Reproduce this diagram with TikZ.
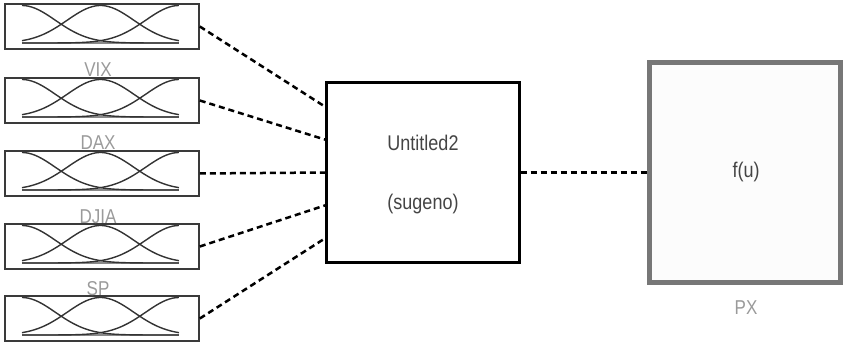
\documentclass[tikz,border=0pt]{standalone}
\usepackage{fontspec}
\usepackage{graphicx}
\setmainfont{Liberation Sans}
\usetikzlibrary{calc}
\definecolor{lblgray}{HTML}{9A9A9A}
\definecolor{txtgray}{HTML}{444444}
\definecolor{boxgray}{HTML}{3A3A3A}
\definecolor{pxgray}{HTML}{777777}
\definecolor{basegray}{HTML}{8A8A8A}
\newcommand{\tallt}[1]{\scalebox{1}[1.18]{#1}}
\tikzset{
  mfbox/.style={draw=boxgray, line width=1.6pt, minimum width=194pt, minimum height=45pt, inner sep=0pt},
  mflabel/.style={text=lblgray, font=\fontsize{17}{17}\selectfont, inner sep=0pt},
  mfcurve/.style={draw=black!80, line width=1.4pt},
  conn/.style={draw=black, line width=2.5pt, dash pattern=on 6pt off 4pt},
  fisbox/.style={draw=black, line width=2.4pt, minimum width=193pt, minimum height=180pt, inner sep=0pt},
  pxbox/.style={draw=pxgray, line width=5pt, fill=black!1, minimum width=191pt, minimum height=220pt, inner sep=0pt},
  intext/.style={text=txtgray, font=\fontsize{18}{18}\selectfont, inner sep=0pt},
}
\newcommand{\mfplot}[1]{%
  % #1 = top y of box
  \pgfmathsetmacro{\yb}{#1+45-6}
  \pgfmathsetmacro{\hh}{45-7.5}
  \draw[basegray, line width=2.4pt] (22,\yb) -- (179,\yb);
  \draw[mfcurve] plot[domain=0:1, samples=50, smooth] ({22+157*\x},{\yb-\hh*exp(-(\x)^2/(2*0.2123^2))});
  \draw[mfcurve] plot[domain=0:1, samples=50, smooth] ({22+157*\x},{\yb-\hh*exp(-(\x-0.5)^2/(2*0.2123^2))});
  \draw[mfcurve] plot[domain=0:1, samples=50, smooth] ({22+157*\x},{\yb-\hh*exp(-(\x-1)^2/(2*0.2123^2))});
}
\begin{document}
\begin{tikzpicture}[x=1pt,y=-1pt]
\useasboundingbox (0,0) rectangle (845,342);
% input membership-function blocks
\node[mfbox] (in1) at (102,26.5) {};
\node[mfbox] (in2) at (102,100.5) {};
\node[mfbox] (in3) at (102,173.5) {};
\node[mfbox] (in4) at (102,246.5) {};
\node[mfbox] (in5) at (102,318.5) {};
\mfplot{4}
\mfplot{78}
\mfplot{151}
\mfplot{224}
\mfplot{296}
\node[mflabel] (l1) at (98,70) {\tallt{VIX}};
\node[mflabel] (l2) at (98,143) {\tallt{DAX}};
\node[mflabel] (l3) at (98,217) {\tallt{DJIA}};
\node[mflabel] (l4) at (98,289) {\tallt{SP}};
% fuzzy inference system block
\node[fisbox] (fis) at (423,172.5) {};
\node[intext] (fist1) at (423,143) {\tallt{Untitled2}};
\node[intext] (fist2) at (423,204) {\tallt{(sugeno)}};
% output block
\node[pxbox] (px) at (744.7,172.5) {};
\node[intext] (pxt) at (746,172) {\tallt{f(u)}};
\node[mflabel] (pxl) at (746,308) {\tallt{PX}};
% connectors
\draw[conn] (in1.east) -- ($(fis.north west)!0.14!(fis.south west)$);
\draw[conn] (in2.east) -- ($(fis.north west)!0.32!(fis.south west)$);
\draw[conn] (in3.east) -- ($(fis.north west)!0.50!(fis.south west)$);
\draw[conn] (in4.east) -- ($(fis.north west)!0.68!(fis.south west)$);
\draw[conn] (in5.east) -- ($(fis.north west)!0.86!(fis.south west)$);
\draw[conn] (fis.east) -- (px.west);
\end{tikzpicture}
\end{document}
